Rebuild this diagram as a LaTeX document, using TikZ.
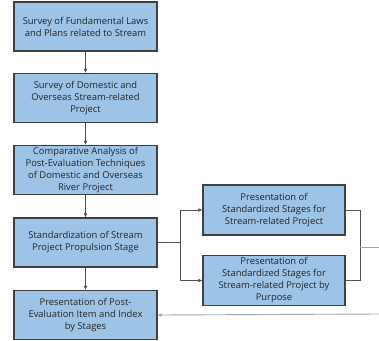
\documentclass[tikz,border=0pt]{standalone}
\usepackage{fontspec}
\setmainfont{Open Sans}
\usetikzlibrary{arrows.meta}
\definecolor{boxfill}{HTML}{9DC3E6}
\definecolor{boxline}{HTML}{404040}
\definecolor{txt}{HTML}{262626}
\definecolor{wire}{HTML}{505050}
\begin{document}
\begin{tikzpicture}[x=1pt,y=-1pt,
  stagebox/.style={draw=boxline,line width=1.2pt,fill=boxfill,rectangle,
    align=center,inner sep=0pt,text=txt,
    font=\fontsize{9.4}{12}\selectfont},
  leftbox/.style={stagebox,minimum width=143pt,minimum height=49pt},
  rightbox/.style={stagebox,minimum width=142pt,minimum height=50pt},
  link/.style={draw=wire,line width=0.6pt},
  flow/.style={link,-{Latex[length=4pt,width=3.6pt]}}]
\useasboundingbox (0,0) rectangle (379,340);

% main column
\node[leftbox] (laws) at (85.5,26.5) {Survey of Fundamental Laws\\and Plans related to Stream};
\node[leftbox] (survey) at (85.5,98) {Survey of Domestic and\\Overseas Stream-related\\Project};
\node[leftbox] (compare) at (85.5,170) {Comparative Analysis of\\Post-Evaluation Techniques\\of Domestic and Overseas\\River Project};
\node[leftbox] (standard) at (85.5,242.5) {Standardization of Stream\\Project Propulsion Stage};
\node[leftbox] (present) at (85.5,315) {Presentation of Post-\\Evaluation Item and Index\\by Stages};

% branch column
\node[rightbox] (stages) at (274,210) {Presentation of\\Standardized Stages for\\Stream-related Project};
\node[rightbox] (purpose) at (274,280.5) {Presentation of\\Standardized Stages for\\Stream-related Project by\\Purpose};

% vertical flow
\draw[flow] (laws) -- (survey);
\draw[flow] (survey) -- (compare);
\draw[flow] (compare) -- (standard);
\draw[flow] (standard) -- (present);

% split into the two branch boxes
\coordinate (split) at (180,242.5);
\draw[link] (standard.east) -- (split);
\draw[flow] (split) |- (stages.west);
\draw[flow] (split) |- (purpose.west);

% merge of the branch boxes
\coordinate (merge) at (360,247);
\coordinate (mergeout) at (379,247);
\draw[link] (stages.east) -| (merge);
\draw[link] (purpose.east) -| (merge);
\draw[link,draw=gray!70] (merge) -- (mergeout);

% return into the last stage
\coordinate (back) at (379,314);
\draw[flow,draw=gray!70,line width=0.9pt] (back) -- (present.east);
\end{tikzpicture}
\end{document}
